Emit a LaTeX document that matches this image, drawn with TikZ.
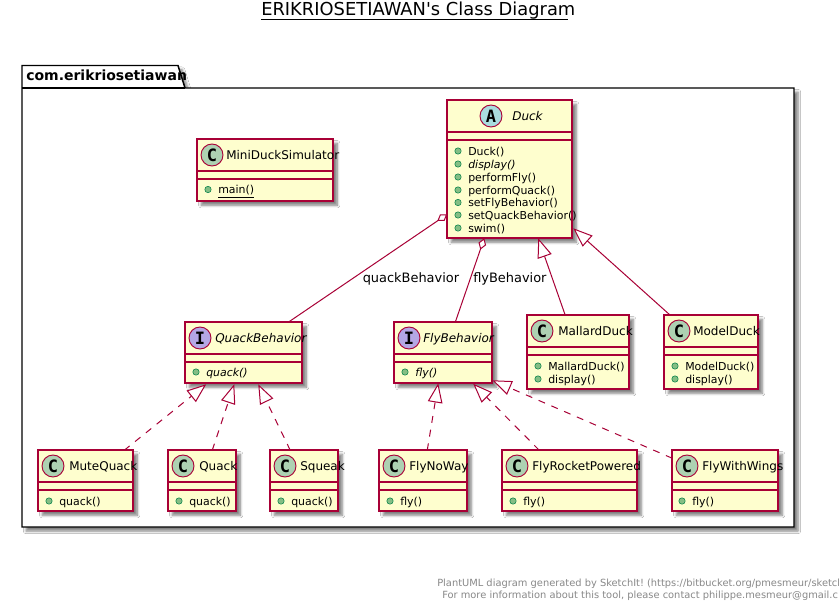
\documentclass[tikz,border=0pt]{standalone}
\usepackage{fontspec}
\setmainfont{DejaVu Sans}
\newfontfamily\plainfont{DejaVu Sans}
\newfontfamily\spotfont{DejaVu Sans Mono}
\usetikzlibrary{arrows.meta,shadows.blur,calc}
\definecolor{umlred}{HTML}{A80036}
\definecolor{umlfill}{HTML}{FEFECE}
\definecolor{spotC}{HTML}{ADD1B2}
\definecolor{spotA}{HTML}{A9DCDF}
\definecolor{spotI}{HTML}{B4A7E5}
\definecolor{pub}{HTML}{84BE84}
\definecolor{pubd}{HTML}{038048}
\definecolor{foot}{HTML}{888888}
\tikzset{
 x=0.75pt,y=-0.75pt,
 softshadow/.style={blur shadow={shadow xshift=3pt,shadow yshift=-3pt,shadow blur radius=2pt,shadow blur steps=6,shadow opacity=50}},
 classbox/.style={draw=umlred,fill=umlfill,line width=1.15pt,inner sep=0pt,outer sep=0pt,anchor=north west,softshadow},
 divider/.style={draw=umlred,line width=1.15pt},
 spot/.style={circle,draw=umlred,line width=0.7pt,minimum size=16.5pt,inner sep=0pt,font=\fontsize{12.75}{12}\selectfont\spotfont\bfseries},
 titletxt/.style={font=\fontsize{9}{11}\selectfont,inner sep=0pt,anchor=base west},
 membertxt/.style={font=\fontsize{8.2}{10}\selectfont,inner sep=0pt,anchor=base west},
 pubdot/.style={circle,draw=pubd,fill=pub,line width=0.4pt,minimum size=4.8pt,inner sep=0pt},
 assoc/.style={draw=umlred,line width=0.75pt},
 inheritline/.style={assoc,-{Triangle[open,length=14.5pt,width=11pt,fill=white]}},
 realize/.style={inheritline,dash pattern=on 5.2pt off 5.2pt},
 aggr/.style={assoc,{Diamond[open,length=9pt,width=6pt,fill=white]}-},
 edgelabel/.style={font=\fontsize{9.7}{11}\selectfont,inner sep=0pt,anchor=base west},
 foottxt/.style={font=\fontsize{7.4}{9}\selectfont\frenchspacing,text=foot,inner sep=0pt,anchor=base west},
}
\newcommand{\spotdx}{15}
% name, left, top, right, bottom, letter, colour, title x, title
\newcommand{\umlbox}[9]{%
 \node[classbox,minimum width={(#4-#2)*0.75pt},minimum height={(#5-#3)*0.75pt}] (#1) at (#2+0.25,#3+0.25) {};
 \draw[divider] (#2+0.25,#3+32.25) -- (#4+0.25,#3+32.25);
 \draw[divider] (#2+0.25,#3+40.25) -- (#4+0.25,#3+40.25);
 \node[spot,fill=#7] (#1s) at (#2+\spotdx,#3+16) {#6};
 \node[titletxt] (#1t) at (#8,#3+20.7) {#9};
}
\newcommand{\umlmem}[4]{% name, x of dot, baseline, text
 \node[pubdot] (#1d) at (#2,#3-4) {};
 \node[membertxt] (#1) at (#2+10,#3) {#4};
}
\begin{document}
\begin{tikzpicture}
\useasboundingbox (0,0) rectangle (839,610);
\fill[white] (0,0) rectangle (839,610);
\clip (0,0) rectangle (839,610);
% title
\node[font=\fontsize{13.4}{14}\selectfont\plainfont,inner sep=0pt,anchor=base west] (title) at (261,16) {ERIKRIOSETIAWAN's Class Diagram};
\coordinate (ulA) at (261,20);
\coordinate (ulB) at (568,20);
\draw[black,line width=0.75pt] (ulA) -- (ulB);
% package
\path[fill=white,draw=black,line width=1.1pt,softshadow] (22,88) -- (22,65.5) -- (178,65.5) -- (185,88) -- (794,88) -- (794,527) -- (22,527) -- cycle;
\draw[black,line width=1.1pt] (22,88) -- (185,88);
\node[font=\fontsize{10.5}{12}\selectfont\bfseries,inner sep=0pt,anchor=base west] (pkg) at (26,80.5) {com.erikriosetiawan};
% classes
\umlbox{mds}{197}{139}{333}{201}{C}{spotC}{226}{MiniDuckSimulator}
\umlmem{mdsa}{208}{193.5}{\underline{main()}}
\renewcommand{\spotdx}{44}
\umlbox{duck}{447}{100}{572}{238}{A}{spotA}{512}{\itshape Duck}
\renewcommand{\spotdx}{15}
\umlmem{ducka}{458}{155}{Duck()}
\umlmem{duckb}{458}{168}{\itshape display()}
\umlmem{duckc}{458}{181}{performFly()}
\umlmem{duckd}{458}{194}{performQuack()}
\umlmem{ducke}{458}{206.5}{setFlyBehavior()}
\umlmem{duckf}{458}{219}{setQuackBehavior()}
\umlmem{duckg}{458}{232}{swim()}
\umlbox{qb}{185}{322}{302}{383}{I}{spotI}{215}{\itshape QuackBehavior}
\umlmem{qba}{196}{376}{\itshape quack()}
\umlbox{fb}{394}{322}{492}{383}{I}{spotI}{423}{\itshape FlyBehavior}
\umlmem{fba}{405}{376}{\itshape fly()}
\umlbox{mallard}{527}{315}{629}{389}{C}{spotC}{558}{MallardDuck}
\umlmem{mallarda}{538}{370}{MallardDuck()}
\umlmem{mallardb}{538}{383}{display()}
\umlbox{model}{664}{315}{758}{389}{C}{spotC}{693}{ModelDuck}
\umlmem{modela}{675}{370}{ModelDuck()}
\umlmem{modelb}{675}{383}{display()}
\umlbox{mute}{38}{450}{133}{511}{C}{spotC}{69}{MuteQuack}
\umlmem{mutea}{49}{505}{quack()}
\umlbox{quack}{168}{450}{236}{511}{C}{spotC}{199}{Quack}
\umlmem{quacka}{179}{505}{quack()}
\umlbox{squeak}{270}{450}{338}{511}{C}{spotC}{300}{Squeak}
\umlmem{squeaka}{281}{505}{quack()}
\umlbox{noway}{379}{450}{467}{511}{C}{spotC}{409}{FlyNoWay}
\umlmem{nowaya}{390}{505}{fly()}
\umlbox{rocket}{502}{450}{637}{511}{C}{spotC}{532}{FlyRocketPowered}
\umlmem{rocketa}{513}{505}{fly()}
\umlbox{wings}{672}{450}{778}{511}{C}{spotC}{702}{FlyWithWings}
\umlmem{wingsa}{682}{505}{fly()}
% connectors
\draw[aggr] ([shift={(0,114)}]duck.north west) -- ([shift={(103,0)}]qb.north west);
\draw[aggr] ([shift={(37,0)}]duck.south west) -- ([shift={(61,0)}]fb.north west);
\draw[inheritline] ([shift={(38,0)}]mallard.north west) -- ([shift={(-34,0)}]duck.south east);
\draw[inheritline] ([shift={(6,0)}]model.north west) -- ([shift={(1,-10)}]duck.south east);
\draw[realize] ([shift={(86,0)}]mute.north west) -- ([shift={(21,1)}]qb.south west);
\draw[realize] ([shift={(44,0)}]quack.north west) -- ([shift={(49,1)}]qb.south west);
\draw[realize] ([shift={(20,0)}]squeak.north west) -- ([shift={(73,1)}]qb.south west);
\draw[realize] ([shift={(48,0)}]noway.north west) -- ([shift={(44,0)}]fb.south west);
\draw[realize] ([shift={(37,0)}]rocket.north west) -- ([shift={(79,0.5)}]fb.south west);
\draw[realize] ([shift={(0,8)}]wings.north west) -- ([shift={(0,-3)}]fb.south east);
% connector labels
\node[edgelabel] (lq) at (362.5,282) {quackBehavior};
\node[edgelabel] (lf) at (473,282) {flyBehavior};
% footer
\node[foottxt] (fa) at (437,586) {PlantUML diagram generated by SketchIt! (https://bitbucket.org/pmesmeur/sketch};
\node[foottxt] (fb2) at (442,598) {For more information about this tool, please contact philippe.mesmeur@gmail.c};
\end{tikzpicture}
\end{document}
